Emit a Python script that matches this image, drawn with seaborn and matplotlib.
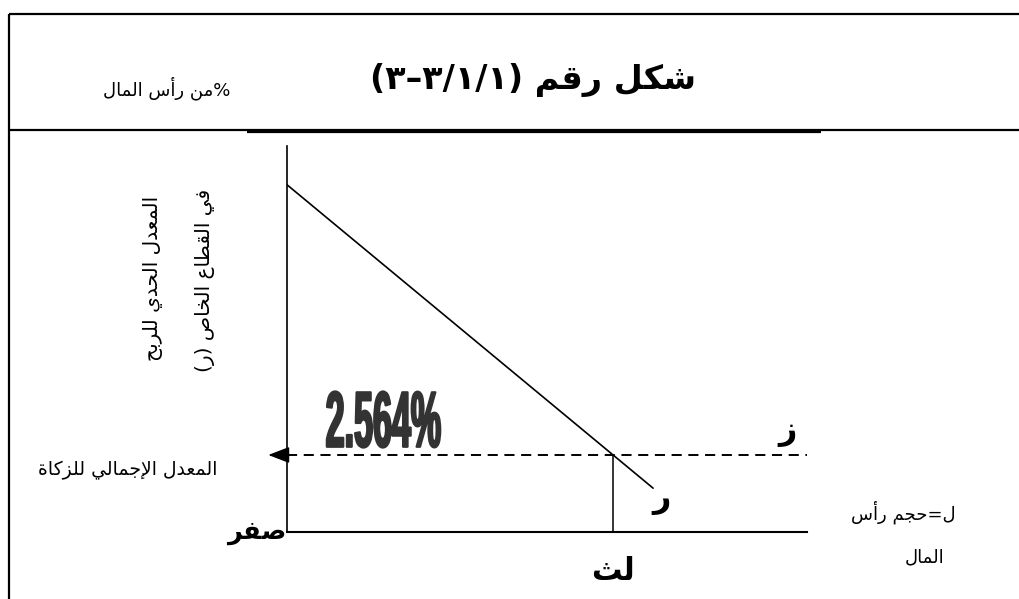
import matplotlib
matplotlib.use("Agg")
import matplotlib.pyplot as plt
import matplotlib.patheffects as pe
from matplotlib.lines import Line2D
from matplotlib.transforms import Affine2D
import seaborn as sns

# ---------------- data ----------------
demand_x = [0.0, 7.04]          # capital volume (schematic units)
demand_y = [11.56, 1.46]        # marginal profit rate, %
zakat_rate = 2.564              # overall zakat rate, %
L_star = 6.27                   # capital level where rates are equal
x_max = 10.0
y_max = 12.85

title_txt = "شكل رقم (١/١/٣–٣)"
unit_txt = "%من رأس المال"
ylab1 = "المعدل الحدي للربح"
ylab2 = "في القطاع الخاص (ر)"
zakat_lab = "المعدل الإجمالي للزكاة"
zero_lab = "صفر"
r_lab = "ر"
z_lab = "ز"
lstar_lab = "لث"
xlab1 = "ل=حجم رأس"
xlab2 = "المال"
rate_lab = "2.564%"

# ------------- Arabic shaping (presentation forms + visual order) -------------
TWO = {'\u0622': 0xFE81, '\u0623': 0xFE83, '\u0624': 0xFE85, '\u0625': 0xFE87,
       '\u0627': 0xFE8D, '\u0629': 0xFE93, '\u062F': 0xFEA9, '\u0630': 0xFEAB,
       '\u0631': 0xFEAD, '\u0632': 0xFEAF, '\u0648': 0xFEED, '\u0649': 0xFEEF}
FOUR = {'\u0626': 0xFE89, '\u0628': 0xFE8F, '\u062A': 0xFE95, '\u062B': 0xFE99,
        '\u062C': 0xFE9D, '\u062D': 0xFEA1, '\u062E': 0xFEA5, '\u0633': 0xFEB1,
        '\u0634': 0xFEB5, '\u0635': 0xFEB9, '\u0636': 0xFEBD, '\u0637': 0xFEC1,
        '\u0638': 0xFEC5, '\u0639': 0xFEC9, '\u063A': 0xFECD, '\u0641': 0xFED1,
        '\u0642': 0xFED5, '\u0643': 0xFED9, '\u0644': 0xFEDD, '\u0645': 0xFEE1,
        '\u0646': 0xFEE5, '\u0647': 0xFEE9, '\u064A': 0xFEF1}
LAMALEF = {'\u0622': 0xFEF5, '\u0623': 0xFEF7, '\u0625': 0xFEF9, '\u0627': 0xFEFB}


def ar(s):
    toks = []
    i = 0
    while i < len(s):
        c = s[i]
        if c == '\u0644' and i + 1 < len(s) and s[i + 1] in LAMALEF:
            toks.append(('LA', s[i + 1]))
            i += 2
        else:
            toks.append(('C', c))
            i += 1

    def j_next(t):
        return t[0] == 'C' and t[1] in FOUR

    def j_prev(t):
        return t[0] == 'LA' or t[1] in FOUR or t[1] in TWO

    out = []
    for k, t in enumerate(toks):
        prev = toks[k - 1] if k > 0 else None
        nxt = toks[k + 1] if k + 1 < len(toks) else None
        jp = prev is not None and j_next(prev) and j_prev(t)
        jn = nxt is not None and j_next(t) and j_prev(nxt)
        kind, c = t
        if kind == 'LA':
            out.append(chr(LAMALEF[c] + (1 if jp else 0)))
        elif c in FOUR:
            off = 3 if (jp and jn) else 2 if jn else 1 if jp else 0
            out.append(chr(FOUR[c] + off))
        elif c in TWO:
            out.append(chr(TWO[c] + (1 if jp else 0)))
        else:
            out.append(c)
    vis = ''.join(out)[::-1]
    mirror = {'(': ')', ')': '('}
    return ''.join(mirror.get(ch, ch) for ch in vis)


class Squeeze(pe.AbstractPathEffect):
    """Narrow the glyph outlines horizontally about their own centre,
    optionally thickening them with an outline stroke."""
    def __init__(self, sx=1.0, sy=1.0, stroke=0.0):
        super().__init__()
        self.sx, self.sy, self.stroke = sx, sy, stroke

    def draw_path(self, renderer, gc, tpath, affine, rgbFace=None):
        ext = tpath.get_extents(affine)
        cx, cy = (ext.x0 + ext.x1) / 2, (ext.y0 + ext.y1) / 2
        t = affine + Affine2D().translate(-cx, -cy).scale(self.sx, self.sy).translate(cx, cy)
        gc0 = renderer.new_gc()
        gc0.copy_properties(gc)
        if self.stroke > 0 and rgbFace is not None:
            gc0.set_linewidth(self.stroke)
            gc0.set_foreground(rgbFace)
            gc0.set_joinstyle('round')
        renderer.draw_path(gc0, tpath, t, rgbFace)
        gc0.restore()


# ---------------- figure ----------------
sns.set_theme(style="white")
plt.rcParams['font.family'] = ['DejaVu Sans']

W, H = 1019, 599
fig = plt.figure(figsize=(W / 100, H / 100), dpi=100)
fig.patch.set_facecolor('white')


def fx(px):
    return px / W


def fy(py):
    return 1 - py / H


# frame / header lines
for (x0, y0, x1, y1, lw) in [(9, 14, 1019, 14, 1.6), (9, 14, 9, 599, 1.6),
                             (9, 129.5, 1019, 129.5, 1.6), (247, 131.5, 821, 131.5, 1.6)]:
    fig.add_artist(Line2D([fx(x0), fx(x1)], [fy(y0), fy(y1)], color='black',
                          lw=lw, transform=fig.transFigure, solid_capstyle='butt'))

ax = fig.add_axes([fx(287), fy(532), fx(807) - fx(287), fy(146) - fy(532)])
ax.set_facecolor('none')
ax.set_xlim(0, x_max)
ax.set_ylim(0, y_max)
ax.set_xticks([])
ax.set_yticks([])
for side in ['top', 'right']:
    ax.spines[side].set_visible(False)
ax.spines['left'].set_color('black')
ax.spines['left'].set_linewidth(1.2)
ax.spines['bottom'].set_color('black')
ax.spines['bottom'].set_linewidth(1.5)

sns.lineplot(x=demand_x, y=demand_y, ax=ax, color='black', lw=1.2)
ax.plot([0, x_max], [zakat_rate, zakat_rate], color='black', lw=1.4,
        dashes=(5.2, 3.4))
ax.plot([L_star, L_star], [0, zakat_rate], color='black', lw=1.1)
ax.annotate('', xy=(-0.36, zakat_rate), xytext=(0.05, zakat_rate),
            annotation_clip=False,
            arrowprops=dict(arrowstyle='-|>,head_length=0.65,head_width=0.25',
                            mutation_scale=20, color='black', lw=1.1,
                            shrinkA=0, shrinkB=0))

# texts inside diagram
ax.text(1.85, 3.52, rate_lab, ha='center', va='center', color='#333333',
        fontsize=57, fontweight='bold',
        family=['Liberation Sans Narrow', 'Liberation Sans', 'DejaVu Sans'],
        path_effects=[Squeeze(0.43, 1.0, stroke=1.6)])
ax.text(9.62, 3.36, ar(z_lab), ha='center', va='center', fontsize=23,
        fontweight='bold', color='black')
ax.text(7.21, 1.07, ar(r_lab), ha='center', va='center', fontsize=23,
        fontweight='bold', color='black')
ax.text(L_star, -1.33, ar(lstar_lab), ha='center', va='center', fontsize=22,
        fontweight='bold', color='black', clip_on=False)
ax.text(-0.58, 0.0, ar(zero_lab), ha='center', va='center', fontsize=18.5,
        fontweight='bold', color='black', clip_on=False)

# texts outside diagram
fig.text(fx(533), fy(80), ar(title_txt), ha='center', va='center',
         fontsize=24, fontweight='bold', color='black')
fig.text(fx(167), fy(88), ar(unit_txt), ha='center', va='center',
         fontsize=13, color='black')
fig.text(fx(153), fy(278), ar(ylab1), ha='center', va='center', rotation=90,
         fontsize=14.5, color='black')
fig.text(fx(205), fy(280), ar(ylab2), ha='center', va='center', rotation=90,
         fontsize=14.5, color='black')
fig.text(fx(128), fy(470), ar(zakat_lab), ha='center', va='center',
         fontsize=13.5, color='black')
fig.text(fx(903), fy(512), ar(xlab1), ha='center', va='center',
         fontsize=13, color='black')
fig.text(fx(925), fy(557), ar(xlab2), ha='center', va='center',
         fontsize=13, color='black')

fig.savefig('out.png', dpi=100, facecolor='white')
